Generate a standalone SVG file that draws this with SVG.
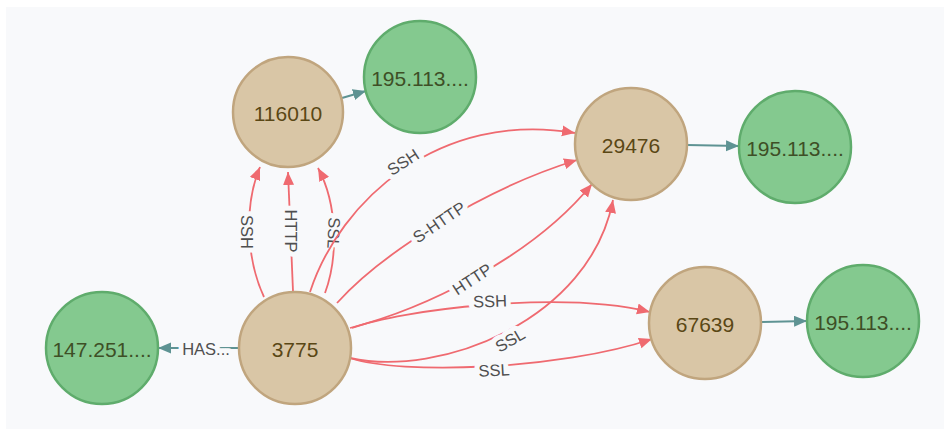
<svg xmlns="http://www.w3.org/2000/svg" width="944" height="429" viewBox="0 0 944 429">
  <style>
    .host circle { fill: #d9c6a6; stroke: #c0a57e; stroke-width: 2.5; }
    .host text { fill: #5a4715; font-family: "Liberation Sans", Arial, sans-serif; font-size: 21px; text-anchor: middle; dominant-baseline: central; }
    .ip circle { fill: #84c98f; stroke: #5fac6c; stroke-width: 2.5; }
    .ip text { fill: #3e4f26; font-family: "Liberation Sans", Arial, sans-serif; font-size: 21px; text-anchor: middle; dominant-baseline: central; }
    .rel { fill: none; stroke: #ef6a70; stroke-width: 1.8; marker-end: url(#arrow-red); }
    .has { fill: none; stroke: #5e9393; stroke-width: 2; marker-end: url(#arrow-teal); }
    .lbl { fill: #4f4f4f; font-family: "Liberation Sans", Arial, sans-serif; font-size: 16.5px; text-anchor: middle; dominant-baseline: central; stroke: #f8f9fb; stroke-width: 10; paint-order: stroke; stroke-linejoin: round; }
  </style>
  <defs>
    <marker id="arrow-red" markerUnits="userSpaceOnUse" markerWidth="14" markerHeight="12" refX="13" refY="5.5" orient="auto">
      <path d="M0,0 L13,5.5 L0,11 Z" fill="#ef6a70"/>
    </marker>
    <marker id="arrow-teal" markerUnits="userSpaceOnUse" markerWidth="14" markerHeight="12" refX="13" refY="5.5" orient="auto">
      <path d="M0,0 L13,5.5 L0,11 Z" fill="#5e9393"/>
    </marker>
  </defs>

  <!-- canvas -->
  <rect x="0" y="0" width="944" height="429" fill="#ffffff"/>
  <rect x="6" y="7" width="938" height="422" fill="#f8f9fb"/>

  <g id="edges">
    <!-- 3775 -> 116010 -->
    <path class="rel" d="M264,297 C246,258 244,205 260,167"/>
    <text class="lbl" transform="translate(247,232) rotate(90)">SSH</text>
    <path class="rel" d="M293,291 L288,172"/>
    <text class="lbl" transform="translate(291,231) rotate(90)">HTTP</text>
    <path class="rel" d="M325,293 C338,258 338,205 318,168"/>
    <text class="lbl" transform="translate(334,233) rotate(93)">SSL</text>

    <!-- 3775 -> 29476 -->
    <path class="rel" d="M310,292 C340,200 440,110 575,133"/>
    <text class="lbl" transform="translate(403,162) rotate(-33)">SSH</text>
    <path class="rel" d="M337,303 C380,255 480,190 577,160"/>
    <text class="lbl" transform="translate(439,222) rotate(-34)">S-HTTP</text>
    <path class="rel" d="M350,328 C420,310 530,260 592,184"/>
    <text class="lbl" transform="translate(472,279) rotate(-33)">HTTP</text>
    <path class="rel" d="M350,358 C440,378 590,320 613,200"/>
    <text class="lbl" transform="translate(510,340) rotate(-30)">SSL</text>

    <!-- 3775 -> 67639 -->
    <path class="rel" d="M352,328 C400,310 560,290 650,312"/>
    <text class="lbl" transform="translate(490,301) rotate(-2)">SSH</text>
    <path class="rel" d="M350,358 C400,375 560,370 652,339"/>
    <text class="lbl" transform="translate(494,370) rotate(-3)">SSL</text>

    <!-- host -> address links -->
    <path class="has" d="M342,98 L366,91"/>
    <path class="has" d="M687,145 L739,146"/>
    <path class="has" d="M761,322 L807,321"/>
    <path class="has" d="M239,348 L158,348"/>
    <text class="lbl" x="206" y="349">HAS...</text>
  </g>

  <g id="node-116010" class="host">
    <circle cx="288" cy="112" r="55"/>
    <text x="288" y="113">116010</text>
  </g>
  <g id="node-29476" class="host">
    <circle cx="631" cy="144" r="56"/>
    <text x="631" y="145">29476</text>
  </g>
  <g id="node-67639" class="host">
    <circle cx="705" cy="323" r="56"/>
    <text x="705" y="324">67639</text>
  </g>
  <g id="node-3775" class="host">
    <circle cx="295" cy="348" r="56"/>
    <text x="295" y="349">3775</text>
  </g>

  <g id="ip-top" class="ip">
    <circle cx="420" cy="77" r="56"/>
    <text x="420" y="78">195.113....</text>
  </g>
  <g id="ip-29476" class="ip">
    <circle cx="795" cy="147" r="56"/>
    <text x="795" y="148">195.113....</text>
  </g>
  <g id="ip-67639" class="ip">
    <circle cx="863" cy="321" r="56"/>
    <text x="863" y="322">195.113....</text>
  </g>
  <g id="ip-3775" class="ip">
    <circle cx="102" cy="348" r="56"/>
    <text x="102" y="349">147.251....</text>
  </g>
</svg>
